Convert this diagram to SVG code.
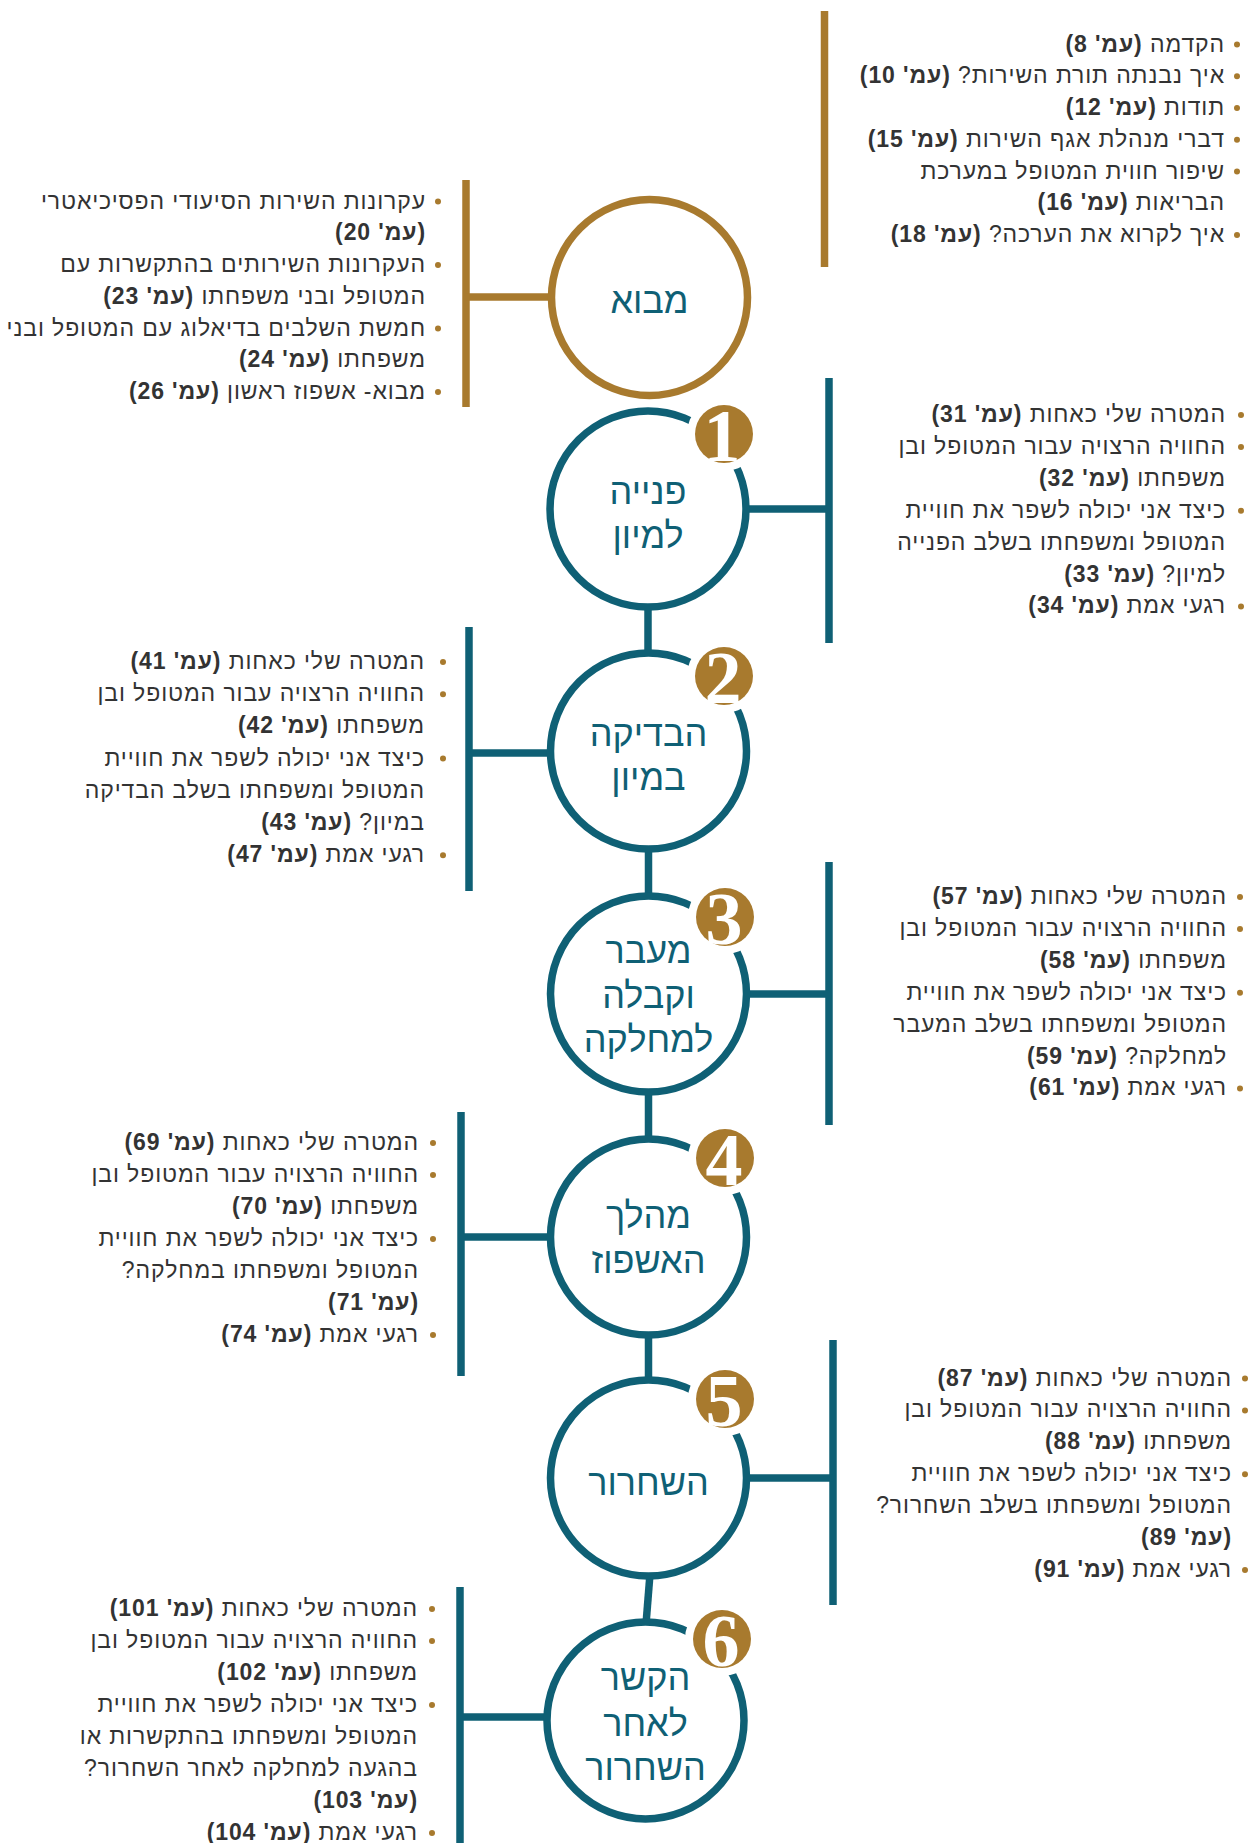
<svg xmlns="http://www.w3.org/2000/svg" width="1258" height="1843" viewBox="0 0 1258 1843">
<style>
.t{font-family:"Liberation Sans",Arial,sans-serif;font-size:23px;letter-spacing:0.9px;fill:#333333;direction:rtl;text-anchor:start}
.b{font-weight:bold}
.lbl{font-family:"Liberation Sans",Arial,sans-serif;font-size:36px;fill:#0F6075;text-anchor:middle;direction:rtl}
.num{font-family:"Liberation Serif","Times New Roman",serif;font-weight:bold;font-size:74px;fill:#ffffff;text-anchor:middle}
.ring{fill:#ffffff;stroke:#0F6075;stroke-width:7.5}
.ringg{fill:#ffffff;stroke:#A87A2E;stroke-width:7.5}
.lt{stroke:#0F6075;stroke-width:7.5;fill:none}
.lg{stroke:#A87A2E;stroke-width:7.5;fill:none}
.dot{fill:#A87A2E}
.bw{fill:#ffffff}
.bg{fill:#A87A2E}
</style>

<g id="connectors">
  <line class="lg" x1="824.5" y1="11" x2="824.5" y2="267"/>
  <line class="lg" x1="466" y1="180" x2="466" y2="407"/>
  <line class="lg" x1="466" y1="297" x2="550" y2="297"/>
  <line class="lt" x1="829" y1="378" x2="829" y2="643"/>
  <line class="lt" x1="748" y1="509" x2="829" y2="509"/>
  <line class="lt" x1="469" y1="627" x2="469" y2="891"/>
  <line class="lt" x1="469" y1="753" x2="549" y2="753"/>
  <line class="lt" x1="829" y1="862" x2="829" y2="1125"/>
  <line class="lt" x1="748" y1="994" x2="829" y2="994"/>
  <line class="lt" x1="461" y1="1112" x2="461" y2="1376"/>
  <line class="lt" x1="461" y1="1237" x2="549" y2="1237"/>
  <line class="lt" x1="833" y1="1340" x2="833" y2="1605"/>
  <line class="lt" x1="748" y1="1478" x2="833" y2="1478"/>
  <line class="lt" x1="460" y1="1587" x2="460" y2="1843"/>
  <line class="lt" x1="460" y1="1717" x2="545" y2="1717"/>
  <line class="lt" x1="648" y1="605" x2="648" y2="655"/>
  <line class="lt" x1="648.5" y1="847" x2="648.5" y2="898"/>
  <line class="lt" x1="648.5" y1="1090" x2="648.5" y2="1141"/>
  <line class="lt" x1="648.5" y1="1333" x2="648.5" y2="1382"/>
  <line class="lt" x1="650" y1="1574" x2="646" y2="1624"/>
</g>

<g id="node-intro">
  <circle class="ringg" cx="649.5" cy="297.5" r="98"/>
  <text class="lbl" x="649.5" y="313">מבוא</text>
</g>

<g id="node-1">
  <circle class="ring" cx="648" cy="509" r="98"/>
  <circle class="bw" cx="724" cy="434" r="37"/>
  <circle class="bg" cx="724" cy="434" r="29"/>
  <text class="num" x="722" y="461">1</text>
  <text class="lbl" x="648" y="504">פנייה</text>
  <text class="lbl" x="648" y="548">למיון</text>
</g>

<g id="node-2">
  <circle class="ring" cx="648.5" cy="751" r="98"/>
  <circle class="bw" cx="724" cy="676" r="37"/>
  <circle class="bg" cx="724" cy="676" r="29"/>
  <text class="num" x="723" y="703">2</text>
  <text class="lbl" x="648.5" y="746">הבדיקה</text>
  <text class="lbl" x="648.5" y="790">במיון</text>
</g>

<g id="node-3">
  <circle class="ring" cx="648.5" cy="994" r="98"/>
  <circle class="bw" cx="725" cy="917" r="37"/>
  <circle class="bg" cx="725" cy="917" r="29"/>
  <text class="num" x="724" y="944">3</text>
  <text class="lbl" x="648.5" y="963">מעבר</text>
  <text class="lbl" x="648.5" y="1008">וקבלה</text>
  <text class="lbl" x="648.5" y="1052">למחלקה</text>
</g>

<g id="node-4">
  <circle class="ring" cx="648.5" cy="1237" r="98"/>
  <circle class="bw" cx="725" cy="1158" r="37"/>
  <circle class="bg" cx="725" cy="1158" r="29"/>
  <text class="num" x="724" y="1185">4</text>
  <text class="lbl" x="648.5" y="1228">מהלך</text>
  <text class="lbl" x="648.5" y="1273">האשפוז</text>
</g>

<g id="node-5">
  <circle class="ring" cx="648.5" cy="1478" r="98"/>
  <circle class="bw" cx="725" cy="1399" r="37"/>
  <circle class="bg" cx="725" cy="1399" r="29"/>
  <text class="num" x="724" y="1426">5</text>
  <text class="lbl" x="648.5" y="1495">השחרור</text>
</g>

<g id="node-6">
  <circle class="ring" cx="645.5" cy="1720.5" r="98.5"/>
  <circle class="bw" cx="722" cy="1639" r="37"/>
  <circle class="bg" cx="722" cy="1639" r="29"/>
  <text class="num" x="721" y="1666">6</text>
  <text class="lbl" x="645.5" y="1690">הקשר</text>
  <text class="lbl" x="645.5" y="1736">לאחר</text>
  <text class="lbl" x="645.5" y="1780">השחרור</text>
</g>

<g id="list-top">
  <circle class="dot" cx="1237" cy="44.5" r="3"/>
  <text class="t" x="1225" y="51.5">הקדמה <tspan class="b">(עמ' 8)</tspan></text>
  <circle class="dot" cx="1237" cy="76.25" r="3"/>
  <text class="t" x="1225" y="83.25">איך נבנתה תורת השירות? <tspan class="b">(עמ' 10)</tspan></text>
  <circle class="dot" cx="1237" cy="108" r="3"/>
  <text class="t" x="1225" y="115">תודות <tspan class="b">(עמ' 12)</tspan></text>
  <circle class="dot" cx="1237" cy="139.75" r="3"/>
  <text class="t" x="1225" y="146.75">דברי מנהלת אגף השירות <tspan class="b">(עמ' 15)</tspan></text>
  <circle class="dot" cx="1237" cy="171.5" r="3"/>
  <text class="t" x="1225" y="178.5">שיפור חווית המטופל במערכת</text>
  <text class="t" x="1225" y="210.25">הבריאות <tspan class="b">(עמ' 16)</tspan></text>
  <circle class="dot" cx="1237" cy="235" r="3"/>
  <text class="t" x="1225" y="242">איך לקרוא את הערכה? <tspan class="b">(עמ' 18)</tspan></text>
</g>

<g id="list-intro">
  <circle class="dot" cx="438" cy="201.5" r="3"/>
  <text class="t" x="426" y="208.5">עקרונות השירות הסיעודי הפסיכיאטרי</text>
  <text class="t" x="426" y="240.25"><tspan class="b">(עמ' 20)</tspan></text>
  <circle class="dot" cx="438" cy="265" r="3"/>
  <text class="t" x="426" y="272">העקרונות השירותים בהתקשרות עם</text>
  <text class="t" x="426" y="303.75">המטופל ובני משפחתו <tspan class="b">(עמ' 23)</tspan></text>
  <circle class="dot" cx="438" cy="328.5" r="3"/>
  <text class="t" x="426" y="335.5">חמשת השלבים בדיאלוג עם המטופל ובני</text>
  <text class="t" x="426" y="367.25">משפחתו <tspan class="b">(עמ' 24)</tspan></text>
  <circle class="dot" cx="438" cy="392" r="3"/>
  <text class="t" x="426" y="399">מבוא- אשפוז ראשון <tspan class="b">(עמ' 26)</tspan></text>
</g>

<g id="list-1">
  <circle class="dot" cx="1241" cy="415" r="3"/>
  <text class="t" x="1226" y="422">המטרה שלי כאחות <tspan class="b">(עמ' 31)</tspan></text>
  <circle class="dot" cx="1241" cy="446.9" r="3"/>
  <text class="t" x="1226" y="453.9">החוויה הרצויה עבור המטופל ובן</text>
  <text class="t" x="1226" y="485.8">משפחתו <tspan class="b">(עמ' 32)</tspan></text>
  <circle class="dot" cx="1241" cy="510.7" r="3"/>
  <text class="t" x="1226" y="517.7">כיצד אני יכולה לשפר את חוויית</text>
  <text class="t" x="1226" y="549.6">המטופל ומשפחתו בשלב הפנייה</text>
  <text class="t" x="1226" y="581.5">למיון? <tspan class="b">(עמ' 33)</tspan></text>
  <circle class="dot" cx="1241" cy="606.4" r="3"/>
  <text class="t" x="1226" y="613.4">רגעי אמת <tspan class="b">(עמ' 34)</tspan></text>
</g>

<g id="list-2">
  <circle class="dot" cx="443" cy="662" r="3"/>
  <text class="t" x="425" y="669">המטרה שלי כאחות <tspan class="b">(עמ' 41)</tspan></text>
  <circle class="dot" cx="443" cy="694.2" r="3"/>
  <text class="t" x="425" y="701.2">החוויה הרצויה עבור המטופל ובן</text>
  <text class="t" x="425" y="733.4">משפחתו <tspan class="b">(עמ' 42)</tspan></text>
  <circle class="dot" cx="443" cy="758.6" r="3"/>
  <text class="t" x="425" y="765.6">כיצד אני יכולה לשפר את חוויית</text>
  <text class="t" x="425" y="797.8">המטופל ומשפחתו בשלב הבדיקה</text>
  <text class="t" x="425" y="830">במיון? <tspan class="b">(עמ' 43)</tspan></text>
  <circle class="dot" cx="443" cy="855.2" r="3"/>
  <text class="t" x="425" y="862.2">רגעי אמת <tspan class="b">(עמ' 47)</tspan></text>
</g>

<g id="list-3">
  <circle class="dot" cx="1240" cy="897" r="3"/>
  <text class="t" x="1227" y="904">המטרה שלי כאחות <tspan class="b">(עמ' 57)</tspan></text>
  <circle class="dot" cx="1240" cy="928.9" r="3"/>
  <text class="t" x="1227" y="935.9">החוויה הרצויה עבור המטופל ובן</text>
  <text class="t" x="1227" y="967.8">משפחתו <tspan class="b">(עמ' 58)</tspan></text>
  <circle class="dot" cx="1240" cy="992.7" r="3"/>
  <text class="t" x="1227" y="999.7">כיצד אני יכולה לשפר את חוויית</text>
  <text class="t" x="1227" y="1031.6">המטופל ומשפחתו בשלב המעבר</text>
  <text class="t" x="1227" y="1063.5">למחלקה? <tspan class="b">(עמ' 59)</tspan></text>
  <circle class="dot" cx="1240" cy="1088.4" r="3"/>
  <text class="t" x="1227" y="1095.4">רגעי אמת <tspan class="b">(עמ' 61)</tspan></text>
</g>

<g id="list-4">
  <circle class="dot" cx="433" cy="1143" r="3"/>
  <text class="t" x="419" y="1150">המטרה שלי כאחות <tspan class="b">(עמ' 69)</tspan></text>
  <circle class="dot" cx="433" cy="1175" r="3"/>
  <text class="t" x="419" y="1182">החוויה הרצויה עבור המטופל ובן</text>
  <text class="t" x="419" y="1214">משפחתו <tspan class="b">(עמ' 70)</tspan></text>
  <circle class="dot" cx="433" cy="1239" r="3"/>
  <text class="t" x="419" y="1246">כיצד אני יכולה לשפר את חוויית</text>
  <text class="t" x="419" y="1278">המטופל ומשפחתו במחלקה?</text>
  <text class="t" x="419" y="1310"><tspan class="b">(עמ' 71)</tspan></text>
  <circle class="dot" cx="433" cy="1335" r="3"/>
  <text class="t" x="419" y="1342">רגעי אמת <tspan class="b">(עמ' 74)</tspan></text>
</g>

<g id="list-5">
  <circle class="dot" cx="1245" cy="1378.5" r="3"/>
  <text class="t" x="1232" y="1385.5">המטרה שלי כאחות <tspan class="b">(עמ' 87)</tspan></text>
  <circle class="dot" cx="1245" cy="1410.4" r="3"/>
  <text class="t" x="1232" y="1417.4">החוויה הרצויה עבור המטופל ובן</text>
  <text class="t" x="1232" y="1449.3">משפחתו <tspan class="b">(עמ' 88)</tspan></text>
  <circle class="dot" cx="1245" cy="1474.2" r="3"/>
  <text class="t" x="1232" y="1481.2">כיצד אני יכולה לשפר את חוויית</text>
  <text class="t" x="1232" y="1513.1">המטופל ומשפחתו בשלב השחרור?</text>
  <text class="t" x="1232" y="1545"><tspan class="b">(עמ' 89)</tspan></text>
  <circle class="dot" cx="1245" cy="1569.9" r="3"/>
  <text class="t" x="1232" y="1576.9">רגעי אמת <tspan class="b">(עמ' 91)</tspan></text>
</g>

<g id="list-6">
  <circle class="dot" cx="432" cy="1609" r="3"/>
  <text class="t" x="418" y="1616">המטרה שלי כאחות <tspan class="b">(עמ' 101)</tspan></text>
  <circle class="dot" cx="432" cy="1641" r="3"/>
  <text class="t" x="418" y="1648">החוויה הרצויה עבור המטופל ובן</text>
  <text class="t" x="418" y="1680">משפחתו <tspan class="b">(עמ' 102)</tspan></text>
  <circle class="dot" cx="432" cy="1705" r="3"/>
  <text class="t" x="418" y="1712">כיצד אני יכולה לשפר את חוויית</text>
  <text class="t" x="418" y="1744">המטופל ומשפחתו בהתקשרות או</text>
  <text class="t" x="418" y="1776">בהגעה למחלקה לאחר השחרור?</text>
  <text class="t" x="418" y="1808"><tspan class="b">(עמ' 103)</tspan></text>
  <circle class="dot" cx="432" cy="1833" r="3"/>
  <text class="t" x="418" y="1840">רגעי אמת <tspan class="b">(עמ' 104)</tspan></text>
</g>
</svg>
